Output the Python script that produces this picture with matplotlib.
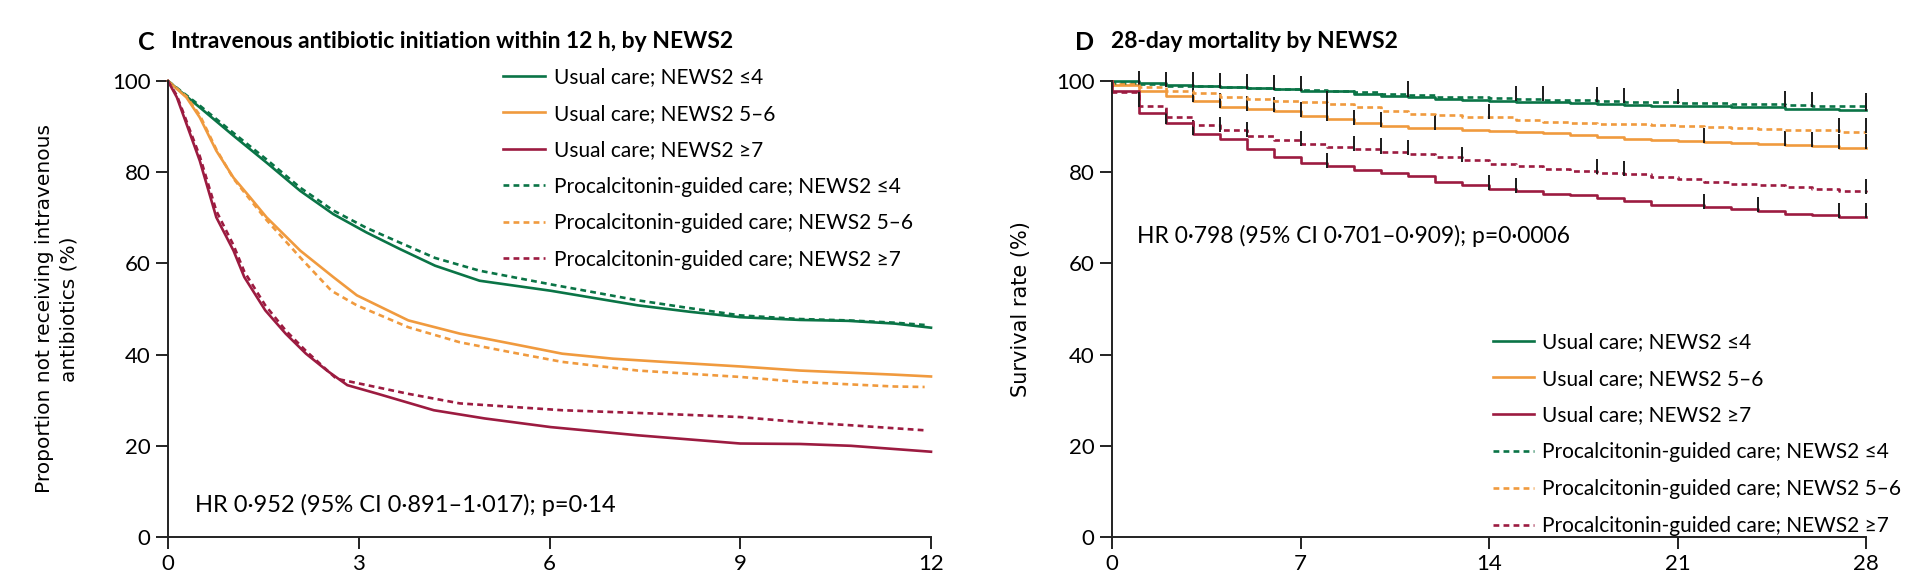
import numpy as np
import matplotlib
matplotlib.use("Agg")
import matplotlib.pyplot as plt

plt.rcParams['font.family'] = ['Lato', 'DejaVu Sans']

GREEN = '#0a7446'
ORANGE = '#f09a3e'
RED = '#9c1b40'

labels = ["Usual care; NEWS2 \u22644", "Usual care; NEWS2 5\u20136", "Usual care; NEWS2 \u22657",
          "Procalcitonin-guided care; NEWS2 \u22644", "Procalcitonin-guided care; NEWS2 5\u20136",
          "Procalcitonin-guided care; NEWS2 \u22657"]

# panel C: proportion not receiving IV antibiotics (%), hours 0-12
c_t_uc_le4 = [0, 0.5, 1.03, 1.55, 2.08, 2.6, 3.12, 3.64, 4.2, 4.9, 6.02, 7.39, 8.2, 9.0, 9.94, 10.7, 11.43, 12]
c_v_uc_le4 = [100, 94.2, 88.0, 82.1, 75.9, 70.8, 66.8, 63.2, 59.5, 56.2, 54.0, 50.8, 49.4, 48.2, 47.6, 47.4, 46.8, 45.9]
c_t_pc_le4 = [0, 0.5, 1.03, 1.55, 2.08, 2.6, 3.12, 3.64, 4.2, 4.9, 6.02, 7.39, 8.2, 9.0, 9.94, 10.7, 11.43, 11.9]
c_v_pc_le4 = [100, 94.6, 88.6, 82.8, 76.6, 71.6, 67.8, 64.6, 61.2, 58.4, 55.4, 51.9, 50.2, 48.6, 47.8, 47.5, 47.0, 46.5]

c_t_uc_56 = [0, 0.29, 0.5, 0.76, 1.03, 1.29, 1.55, 2.08, 2.6, 2.97, 3.78, 4.59, 5.4, 6.2, 7.0, 7.8, 9.0, 9.94, 11.43, 12]
c_v_uc_56 = [100, 96.4, 92.0, 84.7, 78.8, 74.5, 70.1, 62.8, 57.0, 53.0, 47.5, 44.6, 42.4, 40.2, 39.1, 38.4, 37.4, 36.5, 35.6, 35.2]
c_t_pc_56 = [0, 0.29, 0.5, 0.76, 1.03, 1.29, 1.55, 2.08, 2.57, 2.97, 3.78, 4.59, 5.4, 6.2, 7.39, 9.0, 9.94, 11.43, 11.9]
c_v_pc_56 = [100, 96.6, 92.5, 85.0, 78.6, 74.0, 69.5, 61.3, 54.0, 50.8, 46.0, 42.7, 40.5, 38.4, 36.5, 35.1, 34.0, 33.0, 32.9]

c_t_uc_ge7 = [0, 0.14, 0.35, 0.5, 0.76, 1.03, 1.2, 1.53, 1.85, 2.17, 2.5, 2.82, 3.3, 4.18, 4.98, 6.02, 7.39, 9.0, 9.94, 10.74, 12]
c_v_uc_ge7 = [100, 96.4, 88.3, 82.5, 70.1, 62.8, 57.0, 49.7, 44.6, 40.2, 36.5, 33.3, 31.4, 27.8, 26.0, 24.1, 22.3, 20.5, 20.4, 20.0, 18.7]
c_t_pc_ge7 = [0, 0.14, 0.35, 0.5, 0.76, 1.03, 1.2, 1.53, 1.85, 2.17, 2.5, 2.65, 3.78, 4.59, 6.2, 7.8, 9.0, 9.94, 10.74, 11.9]
c_v_pc_ge7 = [100, 96.8, 89.0, 83.5, 71.5, 64.0, 58.2, 50.8, 45.3, 40.8, 36.6, 34.7, 31.4, 29.3, 27.8, 27.0, 26.3, 25.2, 24.5, 23.4]

# panel D: survival (%), level from each day 0..28
d_days = list(range(29))
d_uc_le4 = [99.9, 99.5, 99.2, 99.0, 98.7, 98.5, 98.2, 97.9, 97.7, 97.2, 96.8, 96.4, 96.1, 95.9, 95.7,
            95.5, 95.4, 95.2, 94.9, 94.8, 94.6, 94.5, 94.5, 94.4, 94.2, 93.9, 93.8, 93.7, 93.7]
d_uc_56 = [99.2, 97.9, 96.8, 95.6, 94.3, 93.8, 93.4, 92.3, 91.6, 90.7, 90.2, 89.8, 89.6, 89.3, 89.0,
           88.8, 88.5, 88.1, 87.7, 87.3, 87.1, 86.9, 86.6, 86.4, 86.2, 86.0, 85.8, 85.4, 85.4]
d_uc_ge7 = [97.8, 92.9, 90.8, 88.4, 87.3, 85.1, 83.4, 82.0, 81.3, 80.5, 79.9, 79.2, 77.9, 77.2, 76.4,
            75.8, 75.3, 74.9, 74.4, 73.6, 72.9, 72.7, 72.3, 72.0, 71.6, 70.9, 70.7, 70.2, 70.2]
d_pc_le4 = [99.6, 99.3, 99.0, 98.9, 98.7, 98.5, 98.3, 98.1, 97.8, 97.5, 97.2, 96.9, 96.6, 96.4, 96.2,
            96.0, 95.9, 95.8, 95.6, 95.5, 95.4, 95.2, 95.1, 95.0, 94.9, 94.7, 94.6, 94.5, 94.4]
d_pc_56 = [99.3, 98.6, 97.9, 97.3, 96.6, 96.0, 95.6, 95.3, 94.9, 94.2, 93.4, 92.8, 92.5, 92.2, 92.0,
           91.4, 91.0, 90.8, 90.6, 90.5, 90.3, 90.1, 90.0, 89.7, 89.5, 89.3, 89.2, 88.8, 88.8]
d_pc_ge7 = [97.5, 94.5, 92.0, 90.3, 89.2, 88.0, 87.0, 86.1, 85.5, 85.0, 84.4, 84.0, 83.3, 82.6, 81.9,
            81.3, 80.8, 80.3, 79.9, 79.5, 78.9, 78.4, 77.9, 77.4, 77.1, 76.8, 76.3, 75.8, 75.6]

# censoring marks (days)
cens_uc_le4 = [28]
cens_uc_56 = [3, 4, 5, 6, 7, 8, 9, 10, 12, 22, 25, 26, 27, 28]
cens_uc_ge7 = [2, 3, 8, 14, 15, 22, 24, 27, 28]
cens_pc_le4 = [1, 2, 3, 4, 5, 6, 7, 11, 15, 16, 18, 19, 21, 25, 26, 28]
cens_pc_56 = [8, 14, 27, 28]
cens_pc_ge7 = [1, 4, 5, 7, 9, 10, 11, 13, 18, 19, 28]

fig = plt.figure(figsize=(19.16, 5.86), dpi=100)
axC = fig.add_axes([168/1916, 1-537/586, 763/1916, 456/586])
axD = fig.add_axes([1112/1916, 1-537/586, 754/1916, 456/586])

FS = 15


def style(ax):
    for s in ['top', 'right']:
        ax.spines[s].set_visible(False)
    for s in ['left', 'bottom']:
        ax.spines[s].set_linewidth(1.4)
        ax.spines[s].set_color('#222222')
    ax.tick_params(direction='out', length=8.5, width=1.4, color='#222222',
                   labelsize=16, pad=4)
    ax.set_ylim(0, 100)
    ax.set_yticks([0, 20, 40, 60, 80, 100])


# ---- C ----
curvesC = [(c_t_uc_le4, c_v_uc_le4, GREEN, '-'), (c_t_uc_56, c_v_uc_56, ORANGE, '-'),
           (c_t_uc_ge7, c_v_uc_ge7, RED, '-'), (c_t_pc_le4, c_v_pc_le4, GREEN, '--'),
           (c_t_pc_56, c_v_pc_56, ORANGE, '--'), (c_t_pc_ge7, c_v_pc_ge7, RED, '--')]
for (t, v, col, ls), lab in zip(curvesC, labels):
    axC.plot(t, v, color=col, ls=ls, lw=1.9, dashes=(2.2, 1.6) if ls == '--' else (None, None),
             label=lab, clip_on=False)
style(axC)
axC.set_xlim(0, 12)
axC.set_xticks([0, 3, 6, 9, 12])
axC.set_ylabel("Proportion not receiving intravenous\nantibiotics (%)", family='DejaVu Sans',
               fontsize=14.5, labelpad=24, linespacing=1.35)
axC.text(0.42, 7, "HR 0\u00b7952 (95% CI 0\u00b7891\u20131\u00b7017); p=0\u00b714", fontsize=17,
         va='center', ha='left')
axC.legend(loc='upper left', bbox_to_anchor=(0.439, 1.03), frameon=False, fontsize=FS,
           handlelength=2.0, handletextpad=0.45, labelspacing=0.79, borderpad=0, borderaxespad=0)

# ---- D ----
curvesD = [(d_uc_le4, cens_uc_le4, GREEN, '-'), (d_uc_56, cens_uc_56, ORANGE, '-'),
           (d_uc_ge7, cens_uc_ge7, RED, '-'), (d_pc_le4, cens_pc_le4, GREEN, '--'),
           (d_pc_56, cens_pc_56, ORANGE, '--'), (d_pc_ge7, cens_pc_ge7, RED, '--')]
handles = []
for (lev, cens, col, ls), lab in zip(curvesD, labels):
    x = [0] + d_days
    y = [100] + lev
    h, = axD.plot(x, y, drawstyle='steps-post', color=col, ls=ls, lw=1.9,
                  dashes=(2.2, 1.6) if ls == '--' else (None, None), label=lab, clip_on=False)
    handles.append(h)
    cy = np.array([lev[d] for d in cens])
    axD.vlines(cens, cy - 0.3, cy + 3.0, color='#1a1a1a', lw=1.4, clip_on=False)
style(axD)
axD.set_xlim(0, 28)
axD.set_xticks([0, 7, 14, 21, 28])
axD.set_ylabel("Survival rate (%)", family='DejaVu Sans', fontsize=15, labelpad=18)
axD.text(0.93, 66, "HR 0\u00b7798 (95% CI 0\u00b7701\u20130\u00b7909); p=0\u00b70006", fontsize=16.5,
         va='center', ha='left')
axD.legend(handles, labels, loc='upper left', bbox_to_anchor=(0.505, 0.45), frameon=False,
           fontsize=FS, handlelength=2.0, handletextpad=0.35, labelspacing=0.81,
           borderpad=0, borderaxespad=0)

# panel titles
fig.text(138/1916, 1-42/586, "C", fontsize=18, fontweight='bold', va='center', ha='left')
fig.text(171/1916, 1-42/586, "Intravenous antibiotic initiation within 12 h, by NEWS2",
         fontsize=16.5, fontweight='bold', va='center', ha='left')
fig.text(1075/1916, 1-42/586, "D", fontsize=18, fontweight='bold', va='center', ha='left')
fig.text(1111/1916, 1-42/586, "28-day mortality by NEWS2", fontsize=16.5, fontweight='bold',
         va='center', ha='left')

fig.savefig("out.png", dpi=100)
